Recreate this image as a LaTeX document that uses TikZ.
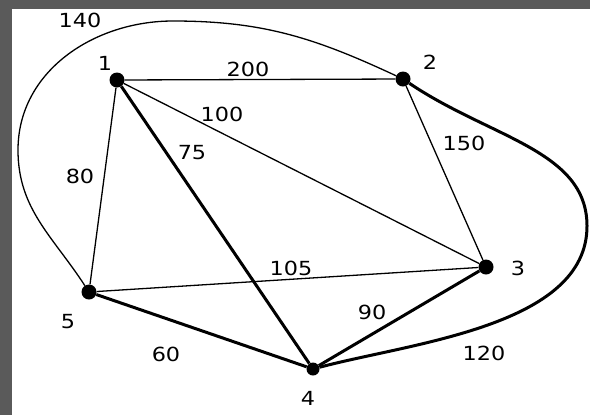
\documentclass[tikz,border=0pt]{standalone}
\usepackage{fontspec}
\setmainfont{DejaVu Sans}
\usepackage{xcolor}
\definecolor{bord}{RGB}{90,90,90}
\begin{document}
\begin{tikzpicture}[x=1bp,y=-1bp]
			\tikzset{arete/.style={line width=1.3bp, black},
				areteG/.style={line width=3bp, black},
				sommet/.style={circle, fill=black, inner sep=0pt, minimum size=15bp},
				etiq/.style={font=\fontsize{19.5}{19.5}\selectfont, inner sep=0pt, xscale=1.15}};
			\useasboundingbox (0,0) rectangle (590,415);
			\node [sommet] (sommet1) at (117,80) {};
			\node [sommet] (sommet2) at (403,79) {};
			\node [sommet] (sommet3) at (486,267) {};
			\node [sommet, minimum size=13bp] (sommet4) at (313,369) {};
			\node [sommet] (sommet5) at (89,292) {};
			\coordinate (gauche) at (18,150);
			\coordinate (haut) at (173,21);
			\coordinate (droite) at (587,226);
			\draw[arete] (sommet1) -- (sommet2);
			\draw[arete] (sommet1) -- (sommet3);
			\draw[arete] (sommet1) -- (sommet5);
			\draw[arete] (sommet2) -- (sommet3);
			\draw[arete] (sommet5) -- (sommet3);
			\draw[areteG] (sommet1) -- (sommet4);
			\draw[areteG] (sommet3) -- (sommet4);
			\draw[areteG] (sommet5) -- (sommet4);
			\draw[arete] (sommet5) to[out=123,in=-90] (gauche) to[out=90,in=180] (haut) to[out=0,in=155] (sommet2);
			\draw[areteG] (sommet2) to[out=-34,in=90,out looseness=1.1,in looseness=0.85] (droite)
				to[out=-90,in=15,out looseness=0.85,in looseness=0.8] (sommet4);
			\node [etiq] (nom1) at (105,63) {1};
			\node [etiq] (nom2) at (430,62) {2};
			\node [etiq] (nom3) at (518,268) {3};
			\node [etiq] (nom4) at (308,398) {4};
			\node [etiq] (nom5) at (68,322) {5};
			\node [etiq] (poids12) at (248,69) {200};
			\node [etiq] (poids13) at (222,114) {100};
			\node [etiq] (poids14) at (192,153) {75};
			\node [etiq] (poids15) at (80,176) {80};
			\node [etiq] (poids23) at (464,143) {150};
			\node [etiq] (poids35) at (291,268) {105};
			\node [etiq] (poids34) at (372,312) {90};
			\node [etiq] (poids45) at (166,354) {60};
			\node [etiq] (poids24) at (484,353) {120};
			\node [etiq] (poids25) at (80,20) {140};
			\fill[bord] (0,0) rectangle (12,415);
			\fill[bord] (0,0) rectangle (590,9);
			\end{tikzpicture}
\end{document}
